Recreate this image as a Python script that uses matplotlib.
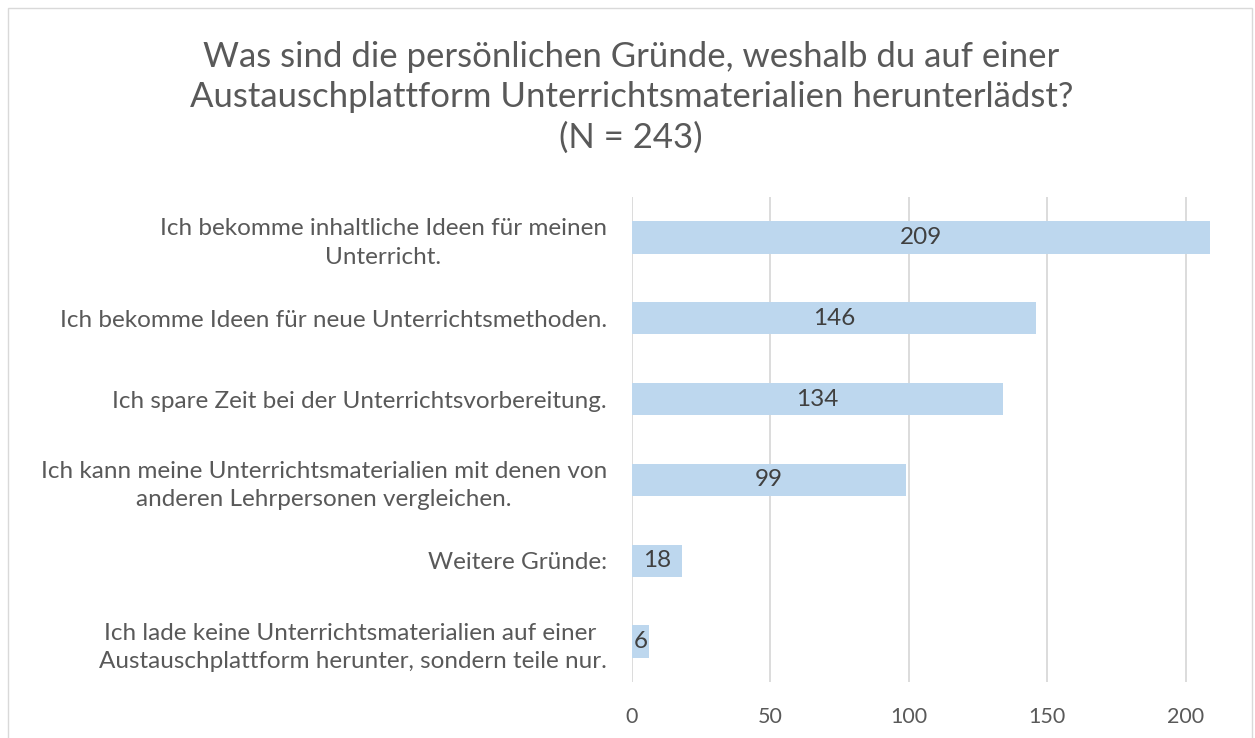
import numpy as np
import matplotlib
matplotlib.use("Agg")
from matplotlib import pyplot as plt

plt.rcParams['font.family'] = ['Lato', 'DejaVu Sans']

categories = [
    "Ich bekomme inhaltliche Ideen für meinen\nUnterricht.",
    "Ich bekomme Ideen für neue Unterrichtsmethoden.",
    "Ich spare Zeit bei der Unterrichtsvorbereitung.",
    "Ich kann meine Unterrichtsmaterialien mit denen von\nanderen Lehrpersonen vergleichen.",
    "Weitere Gründe:",
    "Ich lade keine Unterrichtsmaterialien auf einer \nAustauschplattform herunter, sondern teile nur.",
]
values = [209, 146, 134, 99, 18, 6]
xticks = [0, 50, 100, 150, 200]

title = ("Was sind die persönlichen Gründe, weshalb du auf einer\n"
         "Austauschplattform Unterrichtsmaterialien herunterlädst?\n(N = 243)")

gray = '#595959'
bar_color = '#BDD7EE'

fig = plt.figure(figsize=(12.55, 7.38), dpi=100)
ax = fig.add_axes([632 / 1255, 1 - 682 / 738, 584 / 1255, 485 / 738])

y = np.arange(len(categories))
bars = ax.barh(y, values, height=0.4, color=bar_color, zorder=2)

for b, v in zip(bars, values):
    ax.text(b.get_width() / 2, b.get_y() + b.get_height() / 2, str(v),
            ha='center', va='center', fontsize=17.5, color='#404040', zorder=3)

ax.set_xlim(0, 211)
ax.set_ylim(len(categories) - 0.5, -0.5)
ax.set_xticks(xticks)
ax.set_yticks(y)
ax.set_yticklabels(categories, fontsize=17.5, color=gray, multialignment='center',
                   linespacing=1.42)
ax.tick_params(axis='y', length=0, pad=18)
ax.tick_params(axis='x', length=0, pad=18, labelsize=15.5, labelcolor=gray)

ax.grid(axis='x', color='#D9D9D9', linewidth=1.3, zorder=0)
for s in ax.spines.values():
    s.set_visible(False)

fig.text(0.503, 1 - 97 / 738, title, ha='center', va='center', fontsize=25,
         color=gray, linespacing=1.32)

# outer frame
fig.patches.append(plt.Rectangle((8 / 1255, -0.01), 1244 / 1255, 1 - 8 / 738 + 0.01,
                                 transform=fig.transFigure, fill=False,
                                 edgecolor='#D9D9D9', linewidth=1))

fig.savefig('out.png', dpi=100)
